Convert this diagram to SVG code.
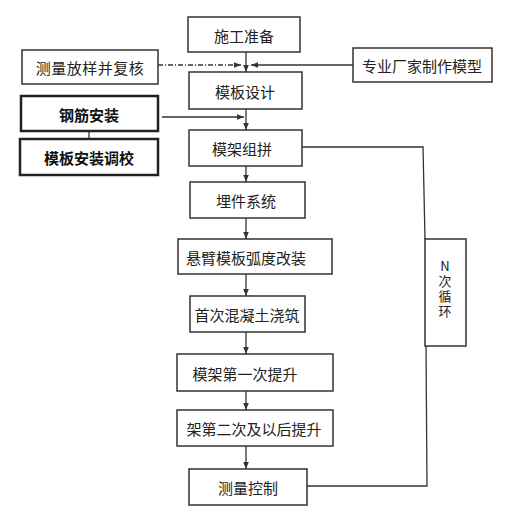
<svg xmlns="http://www.w3.org/2000/svg" width="532" height="519" viewBox="0 0 532 519">
<defs>
<marker id="ah" viewBox="0 0 10 10" refX="10" refY="5" markerWidth="7" markerHeight="7" orient="auto" markerUnits="userSpaceOnUse">
<path d="M0,1 L10,5 L0,9 z" fill="#333"/>
</marker>
</defs>
<style>
.box{fill:#fff;stroke:#333;stroke-width:1.5}
.bbox{fill:#fff;stroke:#222;stroke-width:2.5}
.t{font-family:"Noto Sans CJK SC","Noto Sans CJK JP",sans-serif;font-size:15px;fill:#222;text-anchor:middle;dominant-baseline:central}
.tb{font-family:"Noto Sans CJK SC","Noto Sans CJK JP",sans-serif;font-size:15px;font-weight:bold;fill:#111;text-anchor:middle;dominant-baseline:central}
.tv{font-family:"Noto Sans CJK SC","Noto Sans CJK JP",sans-serif;font-size:13px;fill:#222;text-anchor:middle;writing-mode:vertical-rl;text-orientation:upright;letter-spacing:2px}
.c{fill:none;stroke:#333;stroke-width:1.3}
</style>
<rect width="532" height="519" fill="#fff"/>
<g id="connectors">
<line class="c" x1="246" y1="52" x2="246" y2="72" marker-end="url(#ah)"/>
<line class="c" x1="158" y1="65" x2="241" y2="65" stroke-dasharray="5 2 1 2" marker-end="url(#ah)"/>
<line class="c" x1="353" y1="65" x2="251" y2="65" marker-end="url(#ah)"/>
<line class="c" x1="246" y1="109" x2="246" y2="130" marker-end="url(#ah)"/>
<line class="c" x1="162" y1="117" x2="244" y2="117" stroke-width="1.8" marker-end="url(#ah)"/>
<line class="c" x1="89" y1="131" x2="89" y2="139" stroke-width="2"/>
<line class="c" x1="246" y1="166" x2="246" y2="182" marker-end="url(#ah)"/>
<line class="c" x1="246" y1="218" x2="246" y2="239" marker-end="url(#ah)"/>
<line class="c" x1="246" y1="274" x2="246" y2="296" marker-end="url(#ah)"/>
<line class="c" x1="246" y1="332" x2="246" y2="354" marker-end="url(#ah)"/>
<line class="c" x1="246" y1="391" x2="246" y2="410" marker-end="url(#ah)"/>
<line class="c" x1="246" y1="446" x2="246" y2="469" marker-end="url(#ah)"/>
<polyline class="c" points="302,147 423,147 425,239"/>
<polyline class="c" points="307,486 427,486 426,346"/>
</g>
<g id="n1"><rect class="box" x="188" y="17" width="112" height="35"/><text class="t" x="244" y="35">施工准备</text></g>
<g id="n2"><rect class="box" x="22" y="50" width="136" height="34"/><text class="t" x="90" y="67" letter-spacing="0.5">测量放样并复核</text></g>
<g id="n3"><rect class="box" x="353" y="48" width="139" height="34"/><text class="t" x="422" y="65">专业厂家制作模型</text></g>
<g id="n4"><rect class="box" x="189" y="72" width="113" height="37"/><text class="t" x="245" y="91">模板设计</text></g>
<g id="n5"><rect class="bbox" x="21" y="96" width="137" height="35"/><text class="tb" x="89" y="114">钢筋安装</text></g>
<g id="n6"><rect class="bbox" x="20" y="139" width="138" height="36"/><text class="tb" x="89" y="157">模板安装调校</text></g>
<g id="n7"><rect class="box" x="189" y="130" width="113" height="36"/><text class="t" x="242" y="148">模架组拼</text></g>
<g id="n8"><rect class="box" x="190" y="182" width="115" height="36"/><text class="t" x="246" y="200">埋件系统</text></g>
<g id="n9"><rect class="box" x="178" y="239" width="154" height="35"/><text class="t" x="246" y="257">悬臂模板弧度改装</text></g>
<g id="n10"><rect class="box" x="190" y="296" width="115" height="36"/><text class="t" x="247" y="314">首次混凝土浇筑</text></g>
<g id="n11"><rect class="box" x="177" y="354" width="156" height="37"/><text class="t" x="245" y="373">模架第一次提升</text></g>
<g id="n12"><rect class="box" x="177" y="410" width="156" height="36"/><text class="t" x="254" y="428">架第二次及以后提升</text></g>
<g id="n13"><rect class="box" x="189" y="469" width="118" height="36"/><text class="t" x="248" y="487">测量控制</text></g>
<g id="n14"><rect class="box" x="425" y="239" width="41" height="107"/>
<text class="tv" x="445" y="290">N次循环</text>
</g>
</svg>
